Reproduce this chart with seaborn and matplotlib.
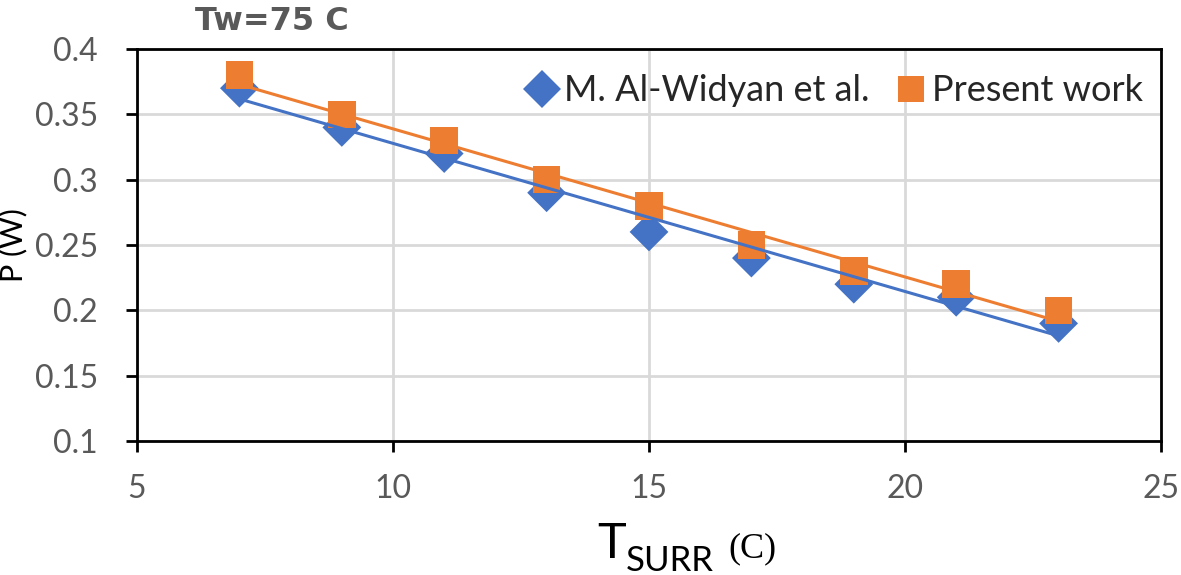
import numpy as np
import pandas as pd
import matplotlib
matplotlib.use("Agg")
import matplotlib.pyplot as plt
import seaborn as sns

# ── Data ──────────────────────────────────────────────────────────────────
t_surr = [7, 9, 11, 13, 15, 17, 19, 21, 23]
p_widyan = [0.37, 0.34, 0.32, 0.29, 0.26, 0.24, 0.22, 0.21, 0.19]
p_present = [0.38, 0.35, 0.33, 0.30, 0.28, 0.25, 0.23, 0.22, 0.20]
series_names = ["M. Al-Widyan et al.", "Present work"]
x_ticks = [5, 10, 15, 20, 25]
y_ticks = [0.1, 0.15, 0.2, 0.25, 0.3, 0.35, 0.4]

df = pd.DataFrame({
    "T": t_surr * 2,
    "P": p_widyan + p_present,
    "source": [series_names[0]] * len(t_surr) + [series_names[1]] * len(t_surr),
})

BLUE, ORANGE, GREY = "#4472C4", "#ED7D31", "#595959"
PALETTE = {series_names[0]: BLUE, series_names[1]: ORANGE}
MARKERS = {series_names[0]: "D", series_names[1]: "s"}

sns.set_style("whitegrid")
plt.rcParams["font.family"] = ["Lato", "DejaVu Sans"]

W, H = 1181, 575
fig = plt.figure(figsize=(W / 100, H / 100), dpi=100)
ax = fig.add_axes([137 / W, 1 - 441 / H, (1161 - 137) / W, (441 - 49) / H])


def px(x, y):
    # figure fraction from pixel position (top-left origin)
    return x / W, 1 - y / H


sns.scatterplot(data=df, x="T", y="P", hue="source", style="source",
                palette=PALETTE, markers=MARKERS, s=390, linewidth=0,
                ax=ax, zorder=3)

# linear trendlines drawn over the markers
for name, color in PALETTE.items():
    sub = df[df["source"] == name]
    sns.regplot(data=sub, x="T", y="P", scatter=False, ci=None, truncate=True,
                color=color, line_kws=dict(linewidth=2.2, zorder=4), ax=ax)

ax.set_xlim(5, 25)
ax.set_ylim(0.1, 0.4)
ax.set_xticks(x_ticks)
ax.set_yticks(y_ticks)
ax.set_xticklabels([str(v) for v in x_ticks])
ax.set_yticklabels([f"{v:g}" for v in y_ticks])
ax.tick_params(axis="both", labelsize=23, labelcolor=GREY, length=8, width=2,
               color="black", direction="out", bottom=True, left=True)
ax.tick_params(axis="x", pad=16)
ax.tick_params(axis="y", pad=20)
ax.grid(color="#d9d9d9", linewidth=2)
for sp in ax.spines.values():
    sp.set_color("black")
    sp.set_linewidth(2)

ax.set_xlabel("")
ax.set_ylabel("P (W)", fontsize=22, color="black")
ax.yaxis.set_label_coords(-0.107, 0.5)

handles, labels = ax.get_legend_handles_labels()
for h in handles:
    h.set_markersize(19)
ax.legend(handles, labels, loc="center right", ncol=2, frameon=False,
          fontsize=26, handletextpad=0.15, columnspacing=0.7,
          borderaxespad=0.0, bbox_to_anchor=(0.997, 0.893), handlelength=0.9)

fig.text(*px(195, 21), "Tw=75 C", fontsize=23, fontweight="bold", color=GREY,
         ha="left", va="center", family=["DejaVu Sans"])

# x label: T with SURR subscript in sans, (C) in serif
fig.text(*px(597, 558), "T", fontsize=35, color="black", ha="left",
         va="baseline")
fig.text(*px(626, 571), "SURR", fontsize=25, color="black", ha="left",
         va="baseline")
fig.text(*px(728, 557), "(C)", fontsize=26, color="black", ha="left",
         va="baseline", family=["Liberation Serif", "DejaVu Serif"])

fig.savefig("out.png", dpi=100)
